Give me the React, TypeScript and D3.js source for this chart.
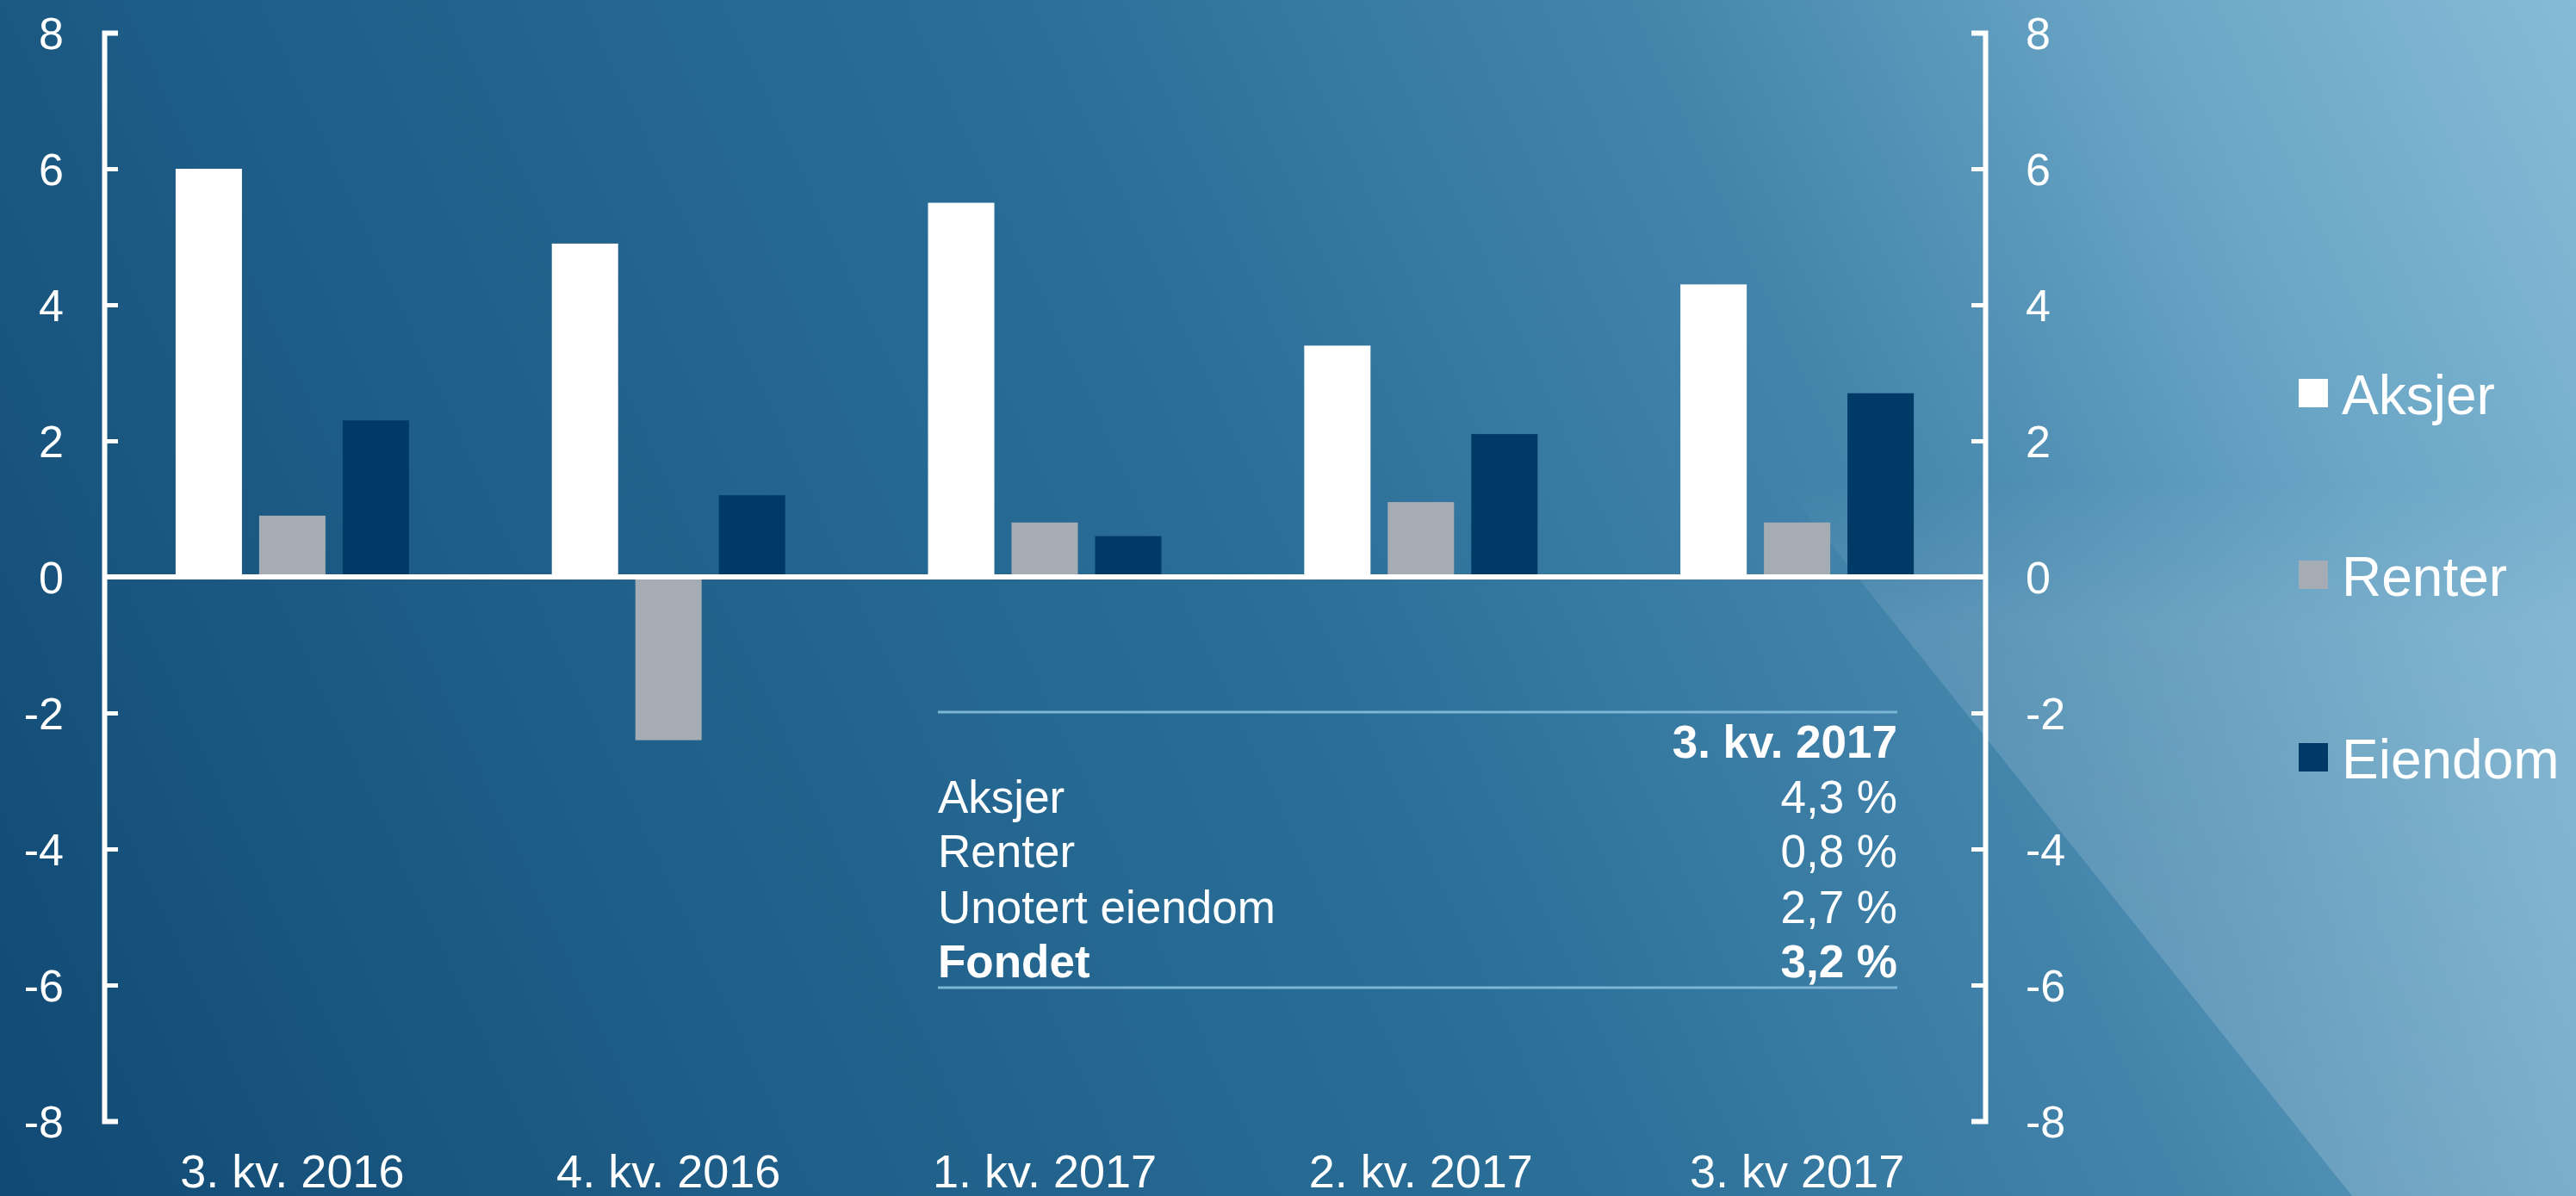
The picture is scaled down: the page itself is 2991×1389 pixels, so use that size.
import React, { useEffect, useRef } from 'react';
import * as d3 from 'd3';

// Kvartaler og avkastning (prosent)
const quarters = ['3. kv. 2016', '4. kv. 2016', '1. kv. 2017', '2. kv. 2017', '3. kv 2017'];
const seriesNames = ['Aksjer', 'Renter', 'Eiendom'];
const aksjer = [6.0, 4.9, 5.5, 3.4, 4.3];
const renter = [0.9, -2.4, 0.8, 1.1, 0.8];
const eiendom = [2.3, 1.2, 0.6, 2.1, 2.7];
const yTicks = [-8, -6, -4, -2, 0, 2, 4, 6, 8];

// Tabell for siste kvartal
const tableHeader = '3. kv. 2017';
const tableLabels = ['Aksjer', 'Renter', 'Unotert eiendom', 'Fondet'];
const tableValues = ['4,3 %', '0,8 %', '2,7 %', '3,2 %'];

const colors = ['#ffffff', '#a6acb3', '#003a67'];

const App: React.FC = () => {
  const ref = useRef<SVGSVGElement>(null);

  useEffect(() => {
    document.body.style.margin = '0';
    if (!ref.current) return;
    const width = 2991;
    const height = 1389;
    const svg = d3.select(ref.current);
    svg.selectAll('*').remove();
    const font = '"Liberation Sans", Arial, sans-serif';

    // Bakgrunn
    const defs = svg.append('defs');
    const bg = defs.append('linearGradient')
      .attr('id', 'bg').attr('gradientUnits', 'userSpaceOnUse')
      .attr('x1', 0).attr('y1', height).attr('x2', width).attr('y2', 0);
    [[0, '#114a74'], [0.22, '#1d5c86'], [0.5, '#2a6f98'], [0.7, '#4384ab'], [0.86, '#6aa6c6'], [1, '#86bbd6']]
      .forEach(([o, c]) => bg.append('stop').attr('offset', o as number).attr('stop-color', c as string));
    const ov = defs.append('linearGradient')
      .attr('id', 'ov').attr('gradientUnits', 'userSpaceOnUse')
      .attr('x1', 0).attr('y1', 560).attr('x2', 0).attr('y2', height);
    ov.append('stop').attr('offset', 0).attr('stop-color', '#ffffff').attr('stop-opacity', 0);
    ov.append('stop').attr('offset', 0.2).attr('stop-color', '#ffffff').attr('stop-opacity', 0.12);
    ov.append('stop').attr('offset', 1).attr('stop-color', '#ffffff').attr('stop-opacity', 0.17);

    svg.append('rect').attr('width', width).attr('height', height).attr('fill', 'url(#bg)');
    svg.append('path')
      .attr('d', `M1621,0 L2731,${height} L${width},${height} L${width},0 Z`)
      .attr('fill', 'url(#ov)');

    const left = 121;
    const right = 2305;

    const x0 = d3.scaleBand().domain(quarters).range([left, right]).padding(0);
    const x1 = d3.scaleBand().domain(seriesNames).range([0, x0.bandwidth()])
      .paddingInner(0.206).paddingOuter(0.855);
    const y = d3.scaleLinear().domain([-8, 8]).range([1302, 38]);

    const values = [aksjer, renter, eiendom];
    const rows = quarters.map((q, i) => ({ q, vals: seriesNames.map((s, j) => ({ s, v: values[j][i], c: colors[j] })) }));

    const g = svg.append('g');
    const grp = g.selectAll('g.grp').data(rows).enter().append('g')
      .attr('transform', d => `translate(${x0(d.q)},0)`);
    grp.selectAll('rect').data(d => d.vals).enter().append('rect')
      .attr('x', d => x1(d.s) || 0)
      .attr('y', d => y(Math.max(0, d.v)))
      .attr('width', x1.bandwidth())
      .attr('height', d => Math.abs(y(d.v) - y(0)))
      .attr('fill', d => d.c);

    // Akser
    const axisColor = '#ffffff';
    const leftAxis = d3.axisRight(y).tickValues(yTicks).tickSize(16).tickFormat(() => '');
    const la = svg.append('g').attr('transform', `translate(${left},0)`).call(leftAxis);
    const rightAxis = d3.axisLeft(y).tickValues(yTicks).tickSize(16).tickFormat(() => '');
    const ra = svg.append('g').attr('transform', `translate(${right},0)`).call(rightAxis);
    [la, ra].forEach(a => {
      a.select('.domain').attr('stroke', axisColor).attr('stroke-width', 6);
      a.selectAll('.tick line').attr('stroke', axisColor).attr('stroke-width', 5);
    });

    // Nullinje
    svg.append('line')
      .attr('x1', left).attr('x2', right)
      .attr('y1', y(0)).attr('y2', y(0))
      .attr('stroke', '#ffffff').attr('stroke-width', 6);

    // Tick-etiketter
    svg.append('g').selectAll('text').data(yTicks).enter().append('text')
      .attr('x', 74).attr('y', d => y(d)).attr('dy', '0.36em')
      .attr('text-anchor', 'end')
      .attr('font-family', font).attr('font-size', 52).attr('fill', '#ffffff')
      .text(d => String(d));
    svg.append('g').selectAll('text').data(yTicks).enter().append('text')
      .attr('x', 2352).attr('y', d => y(d)).attr('dy', '0.36em')
      .attr('text-anchor', 'start')
      .attr('font-family', font).attr('font-size', 52).attr('fill', '#ffffff')
      .text(d => String(d));

    svg.append('g').selectAll('text').data(quarters).enter().append('text')
      .attr('x', d => (x0(d) || 0) + x0.bandwidth() / 2).attr('y', 1379)
      .attr('text-anchor', 'middle')
      .attr('font-family', font).attr('font-size', 54).attr('fill', '#ffffff')
      .text(d => d);

    // Tabell
    const tx0 = 1089;
    const tx1 = 2203;
    const lineColor = '#7cb6d6';
    svg.append('line').attr('x1', tx0).attr('x2', tx1).attr('y1', 827).attr('y2', 827)
      .attr('stroke', lineColor).attr('stroke-width', 3);
    svg.append('line').attr('x1', tx0).attr('x2', tx1).attr('y1', 1147).attr('y2', 1147)
      .attr('stroke', lineColor).attr('stroke-width', 3);
    svg.append('text').attr('x', tx1).attr('y', 880).attr('text-anchor', 'end')
      .attr('font-family', font).attr('font-size', 53).attr('font-weight', 'bold').attr('fill', '#ffffff')
      .text(tableHeader);
    const rowY = [944, 1007, 1072, 1135];
    tableLabels.forEach((lbl, i) => {
      const bold = i === tableLabels.length - 1 ? 'bold' : 'normal';
      svg.append('text').attr('x', tx0).attr('y', rowY[i])
        .attr('font-family', font).attr('font-size', 53).attr('font-weight', bold).attr('fill', '#ffffff')
        .text(lbl);
      svg.append('text').attr('x', tx1).attr('y', rowY[i]).attr('text-anchor', 'end')
        .attr('font-family', font).attr('font-size', 53).attr('font-weight', bold).attr('fill', '#ffffff')
        .text(tableValues[i]);
    });

    // Legende
    const legY = [481, 692, 904];
    const leg = svg.append('g').selectAll('g').data(seriesNames).enter().append('g')
      .attr('transform', (d, i) => `translate(2669,${legY[i]})`);
    leg.append('rect').attr('x', 0).attr('y', -41).attr('width', 34).attr('height', 33)
      .attr('fill', (d, i) => colors[i]);
    leg.append('text').attr('x', 50).attr('y', 0)
      .attr('font-family', font).attr('font-size', 64).attr('fill', '#ffffff')
      .text(d => d);
  }, []);

  return (
    <svg ref={ref} width={2991} height={1389} viewBox="0 0 2991 1389" style={{ display: 'block' }}></svg>
  );
};

export default App;
